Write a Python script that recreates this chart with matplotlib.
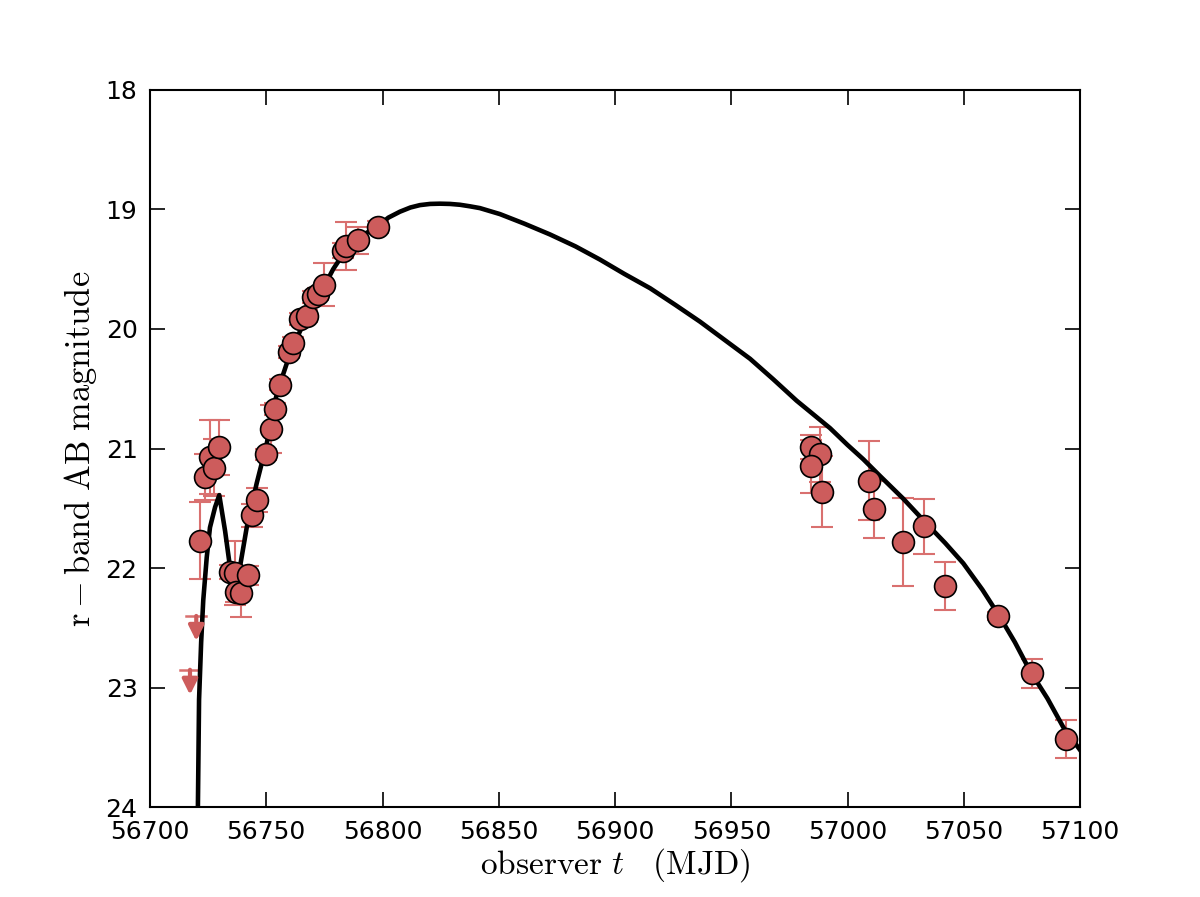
import matplotlib
matplotlib.use("Agg")
import matplotlib.pyplot as plt
import numpy as np

plt.rcParams['mathtext.fontset'] = 'cm'
plt.rcParams['font.family'] = ['DejaVu Sans']

# ---- observed points (MJD, r-band AB mag, 1-sigma error) ----
obs_t = [56721.5, 56723.8, 56725.8, 56727.7, 56729.8,
         56734.4, 56736.6, 56736.9, 56739.1, 56742.0,
         56743.7, 56745.9, 56749.9, 56751.9, 56753.8, 56755.9,
         56759.8, 56761.6, 56764.5, 56767.7, 56770.2, 56772.4, 56774.8,
         56783.1, 56784.3, 56789.6, 56798.2,
         56984.1, 56988.2, 56984.1, 56989.2,
         57009.2, 57011.4, 57024.0, 57032.9, 57041.9,
         57064.9, 57079.2, 57093.8]
obs_m = [21.77, 21.24, 21.07, 21.16, 20.99,
         22.03, 22.04, 22.20, 22.21, 22.06,
         21.56, 21.43, 21.05, 20.835, 20.67, 20.465,
         20.19, 20.12, 19.92, 19.89, 19.735, 19.71, 19.63,
         19.345, 19.31, 19.26, 19.15,
         20.99, 21.05, 21.15, 21.36,
         21.27, 21.51, 21.78, 21.65, 22.15,
         22.40, 22.88, 23.43]
obs_e = [0.32, 0.19, 0.31, 0.24, 0.23,
         0.06, 0.27, 0.08, 0.20, 0.08,
         0.10, 0.10, 0.05, 0.20, 0.05, 0.05,
         0.05, 0.05, 0.05, 0.05, 0.05, 0.05, 0.18,
         0.06, 0.20, 0.11, 0.05,
         0.10, 0.23, 0.22, 0.30,
         0.33, 0.24, 0.37, 0.23, 0.20,
         0.03, 0.12, 0.16]

# ---- upper limits ----
lim_t = [56719.9, 56717.2]
lim_m = [22.40, 22.85]

# ---- model light curve ----
model_t = [56720.6, 56721.1, 56722.0, 56722.9, 56724.4, 56725.8, 56728.0, 56729.8,
           56732.3, 56734.4, 56736.6, 56738.7, 56741.6, 56745.9, 56750.2, 56753.8,
           56755.9, 56760.0, 56764.5, 56768.8, 56773.1, 56778.8, 56784.6, 56791.0,
           56797.5, 56802.5, 56807.5, 56812.0, 56816.1, 56820.5, 56824.7, 56829.0,
           56833.3, 56837.6, 56841.9, 56850.5, 56861.0, 56872.0, 56883.0, 56893.5,
           56904.0, 56915.1, 56926.0, 56936.6, 56947.0, 56958.1, 56968.0, 56978.1,
           56985.0, 56992.5, 57000.0, 57006.8, 57014.0, 57024.0, 57034.1, 57042.0,
           57049.8, 57058.0, 57065.6, 57072.0, 57078.5, 57086.0, 57092.8, 57100.0]
model_m = [24.00, 23.10, 22.62, 22.27, 21.91, 21.66, 21.49, 21.39,
           21.69, 21.99, 22.24, 21.99, 21.66, 21.29, 20.96, 20.60,
           20.46, 20.22, 20.02, 19.86, 19.71, 19.50, 19.33, 19.22,
           19.15, 19.07, 19.02, 18.985, 18.965, 18.955, 18.953, 18.955,
           18.962, 18.975, 18.99, 19.04, 19.12, 19.21, 19.31, 19.42,
           19.54, 19.66, 19.80, 19.94, 20.09, 20.25, 20.42, 20.60,
           20.71, 20.83, 20.97, 21.09, 21.23, 21.42, 21.63, 21.79,
           21.96, 22.18, 22.41, 22.62, 22.86, 23.09, 23.33, 23.52]

fig = plt.figure(figsize=(8, 5.98), dpi=150)
ax = fig.add_axes([0.125, 0.1, 0.775, 0.8])

ax.plot(model_t, model_m, color='black', lw=2.2, zorder=2)

ax.errorbar(obs_t, obs_m, yerr=obs_e, fmt='none', ecolor='#d9706f', elinewidth=1.0,
            capsize=5.5, capthick=1.0, zorder=1)
ax.plot(obs_t, obs_m, 'o', ms=10.5, mfc='#cd5c5c', mec='black', mew=0.8, zorder=3)

for t, m in zip(lim_t, lim_m):
    ax.plot([t - 4.3, t + 4.3], [m, m], color='#d9706f', lw=1.2, zorder=1)
    ax.annotate('', xy=(t, m + 0.21), xytext=(t, m),
                arrowprops=dict(arrowstyle='-|>,head_length=0.6,head_width=0.3',
                                color='#cd5c5c', lw=2.0, shrinkA=0, shrinkB=0))

ax.set_xlim(56700, 57100)
ax.set_ylim(24, 18)
ax.set_xticks(np.arange(56700, 57101, 50))
ax.set_yticks(np.arange(18, 24.1, 1))
ax.tick_params(direction='in', top=True, right=True, length=7, width=0.8, labelsize=12, pad=6)
for s in ax.spines.values():
    s.set_linewidth(1.0)

ax.set_xlabel(r'$\mathrm{observer}\ t\ \ \ \mathrm{(MJD)}$', fontsize=16, labelpad=1)
ax.set_ylabel(r'$\mathrm{r-band\ AB\ magnitude}$', fontsize=16.5, labelpad=3)

fig.savefig('out.png', dpi=150)
